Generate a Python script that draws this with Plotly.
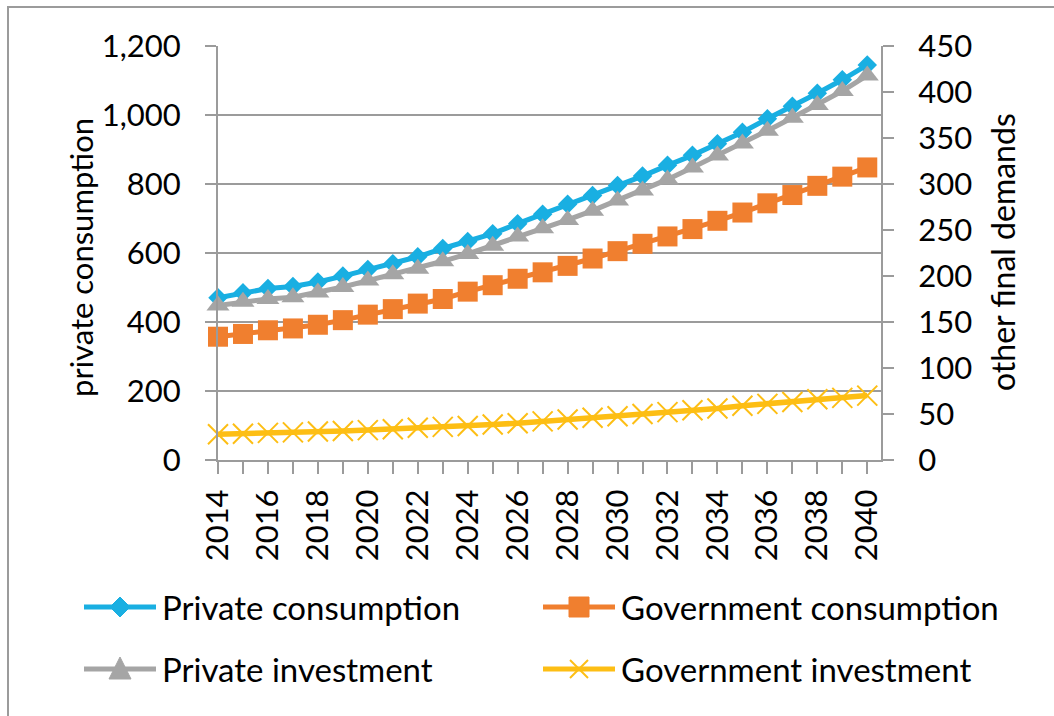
import plotly.graph_objects as go

# ---- data ----
years = list(range(2014, 2041))
private_consumption = [470, 485, 497, 503, 516, 533, 552, 569, 589, 613, 633, 656, 685, 712,
                       741, 767, 796, 823, 854, 883, 917, 950, 989, 1025, 1063, 1102, 1145]
government_consumption = [134, 137, 141, 143, 147, 152, 158, 164, 170, 175, 183, 190, 197, 204,
                          211, 219, 227, 235, 243, 251, 260, 269, 279, 288, 298, 308, 318]
private_investment = [168, 172, 175, 177, 182, 188, 195, 202, 208, 216, 224, 233, 243, 252,
                      261, 271, 282, 293, 305, 318, 331, 344, 358, 372, 386, 401, 418]
government_investment = [28, 28.5, 29.5, 30, 31, 31.5, 32.5, 33.5, 35, 36, 37, 38.5, 40, 42,
                         44, 46, 47.5, 50, 52, 54, 56, 59, 61, 63, 66, 67.5, 70]
year_labels = [str(y) if y % 2 == 0 else "" for y in years]

BLUE = "#19AFE2"
ORANGE = "#F07F2F"
GRAY = "#A5A5A5"
YELLOW = "#FDBE14"
AXIS = "#9B9B9B"
FONT = "Lato"

W, H = 1054, 716
L, R, T, B = 218, 173, 46, 256
PX0, PX1 = L, W - R
PY0, PY1 = T, H - B


def px(x):
    return (x - PX0) / (PX1 - PX0)


def py(y):
    return (PY1 - y) / (PY1 - PY0)


fig = go.Figure()

fig.add_trace(go.Scatter(
    x=years, y=private_consumption, name="Private consumption", yaxis="y",
    mode="lines+markers", line=dict(color=BLUE, width=5),
    marker=dict(symbol="diamond", size=15, color=BLUE), cliponaxis=False))
fig.add_trace(go.Scatter(
    x=years, y=government_consumption, name="Government consumption", yaxis="y2",
    mode="lines+markers", line=dict(color=ORANGE, width=5),
    marker=dict(symbol="square", size=20, color=ORANGE), cliponaxis=False))
fig.add_trace(go.Scatter(
    x=years, y=private_investment, name="Private investment", yaxis="y2",
    mode="lines+markers", line=dict(color=GRAY, width=5),
    marker=dict(symbol="triangle-up", size=20, color=GRAY), cliponaxis=False))
fig.add_trace(go.Scatter(
    x=years, y=government_investment, name="Government investment", yaxis="y2",
    mode="lines+markers", line=dict(color=YELLOW, width=5.5),
    marker=dict(symbol="x-thin", size=20, color=YELLOW,
                line=dict(color=YELLOW, width=2)), cliponaxis=False))

tickfont = dict(family=FONT, size=31, color="#000000")

fig.update_layout(
    width=W, height=H,
    margin=dict(l=L, r=R, t=T, b=B, pad=0),
    paper_bgcolor="white", plot_bgcolor="white",
    showlegend=False,
    xaxis=dict(
        range=[2014, 2040.55], tickmode="array", tickvals=years, ticktext=year_labels,
        tickangle=-90, ticks="outside", ticklen=12, tickwidth=2, tickcolor=AXIS,
        showline=True, linecolor=AXIS, linewidth=2, showgrid=False, zeroline=False,
        tickfont=tickfont, ticklabelstandoff=3),
    yaxis=dict(
        range=[0, 1200], dtick=200, tickformat=",", ticks="outside", ticklen=11,
        tickwidth=2, tickcolor=AXIS, showline=True, linecolor=AXIS, linewidth=2,
        showgrid=True, gridcolor=AXIS, gridwidth=2, zeroline=False,
        tickfont=tickfont, ticklabelstandoff=18),
    yaxis2=dict(
        range=[0, 450], dtick=50, overlaying="y", side="right", ticks="outside",
        ticklen=11, tickwidth=2, tickcolor=AXIS, showline=True, linecolor=AXIS,
        linewidth=2, showgrid=False, zeroline=False, tickfont=tickfont,
        ticklabelstandoff=18),
)

# axis titles
fig.add_annotation(text="private consumption", xref="paper", yref="paper",
                   x=px(81), y=py(258), textangle=-90, showarrow=False,
                   xanchor="center", yanchor="middle",
                   font=dict(family=FONT, size=31, color="#000000"))
fig.add_annotation(text="other final demands", xref="paper", yref="paper",
                   x=px(1002), y=py(252), textangle=-90, showarrow=False,
                   xanchor="center", yanchor="middle",
                   font=dict(family=FONT, size=32, color="#000000"))

# outer chart border
fig.add_shape(type="rect", xref="paper", yref="paper",
              x0=px(8), y0=py(7), x1=px(1070), y1=py(730),
              line=dict(color=AXIS, width=2), fillcolor="rgba(0,0,0,0)", layer="below")

# legend drawn below the plot
legend_items = [
    ("Private consumption", BLUE, "diamond", 84, 607),
    ("Government consumption", ORANGE, "square", 543, 607),
    ("Private investment", GRAY, "triangle", 84, 669),
    ("Government investment", YELLOW, "x", 543, 669),
]
for label, color, sym, lx, ly in legend_items:
    fig.add_shape(type="line", xref="paper", yref="paper",
                  x0=px(lx), y0=py(ly), x1=px(lx + 72), y1=py(ly),
                  line=dict(color=color, width=5))
    cx = lx + 36
    if sym == "diamond":
        d = 10
        path = (f"M {px(cx)} {py(ly - d)} L {px(cx + d)} {py(ly)} "
                f"L {px(cx)} {py(ly + d)} L {px(cx - d)} {py(ly)} Z")
        fig.add_shape(type="path", xref="paper", yref="paper", path=path,
                      fillcolor=color, line=dict(color=color, width=1))
    elif sym == "square":
        d = 10
        fig.add_shape(type="rect", xref="paper", yref="paper",
                      x0=px(cx - d), y0=py(ly - d), x1=px(cx + d), y1=py(ly + d),
                      fillcolor=color, line=dict(color=color, width=1))
    elif sym == "triangle":
        path = (f"M {px(cx)} {py(ly - 12)} L {px(cx + 11)} {py(ly + 10)} "
                f"L {px(cx - 11)} {py(ly + 10)} Z")
        fig.add_shape(type="path", xref="paper", yref="paper", path=path,
                      fillcolor=color, line=dict(color=color, width=1))
    else:
        d = 9
        for sgn in (1, -1):
            fig.add_shape(type="line", xref="paper", yref="paper",
                          x0=px(cx - d), y0=py(ly - sgn * d),
                          x1=px(cx + d), y1=py(ly + sgn * d),
                          line=dict(color=color, width=2))
    fig.add_annotation(text=label, xref="paper", yref="paper",
                       x=px(lx + 76), y=py(ly), xanchor="left", yanchor="middle",
                       showarrow=False,
                       font=dict(family=FONT, size=33, color="#000000"))

fig.write_html("out.html")
